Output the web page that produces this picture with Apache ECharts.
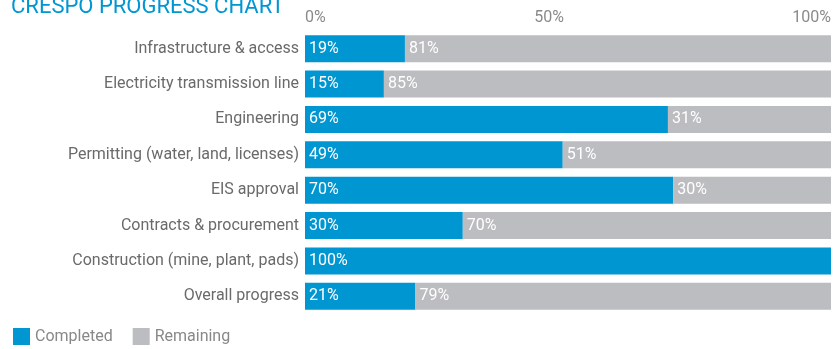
<!DOCTYPE html>
<html><head><meta charset="utf-8">
<script src="https://cdn.jsdelivr.net/npm/echarts@6/dist/echarts.min.js"></script>
<style>html,body{margin:0;padding:0;background:#fff}#c{width:834px;height:349px}</style>
</head><body><div id="c"></div>
<script>
const categories = ["Infrastructure & access","Electricity transmission line","Engineering","Permitting (water, land, licenses)","EIS approval","Contracts & procurement","Construction (mine, plant, pads)","Overall progress"];
const completed = [19,15,69,49,70,30,100,21];
const remaining = [81,85,31,51,30,70,0,79];
const tickValues = [0,50,100];

const FONT = "Roboto";
const chart = echarts.init(document.getElementById('c'));
const lbl = {show:true, position:'insideLeft', distance:4, color:'#fff', fontSize:16, fontFamily:FONT,
  formatter: p => p.value > 0 ? p.value + '%' : ''};
chart.setOption({
  animation:false,
  title:{text:'CRESPO PROGRESS CHART', left:6, top:-9, textStyle:{color:'#0096d2', fontSize:22, fontWeight:'normal', fontFamily:FONT}},
  grid:{left:305, right:0, top:31, bottom:35},
  legend:{left:8, bottom:-1, itemWidth:17, itemHeight:17, itemGap:20, icon:'rect',
    textStyle:{color:'#888', fontSize:16, fontFamily:FONT}, data:['Completed','Remaining']},
  xAxis:{type:'value', position:'top', min:0, max:100, interval:50,
    splitLine:{show:false}, axisLine:{show:false}, axisTick:{show:false},
    axisLabel:{color:'#8a8a8a', fontSize:16, fontFamily:FONT, margin:5, alignMinLabel:'left', alignMaxLabel:'right',
      formatter: v => v===50 ? '{m|50%}' : v+'%', rich:{m:{color:'#8a8a8a', fontSize:16, fontFamily:FONT, padding:[0,38,0,0]}}}},
  yAxis:{type:'category', inverse:true, data:categories,
    axisLine:{show:false}, axisTick:{show:false},
    axisLabel:{color:'#6a6a6a', fontSize:16, fontFamily:FONT, margin:6}},
  series:[
    {name:'Completed', type:'bar', stack:'a', data:completed, barWidth:27, itemStyle:{color:'#0096d2'}, label:lbl},
    {name:'Remaining', type:'bar', stack:'a', data:remaining, barWidth:27, itemStyle:{color:'#bcbdc0'}, label:lbl}
  ]
});
</script></body></html>
